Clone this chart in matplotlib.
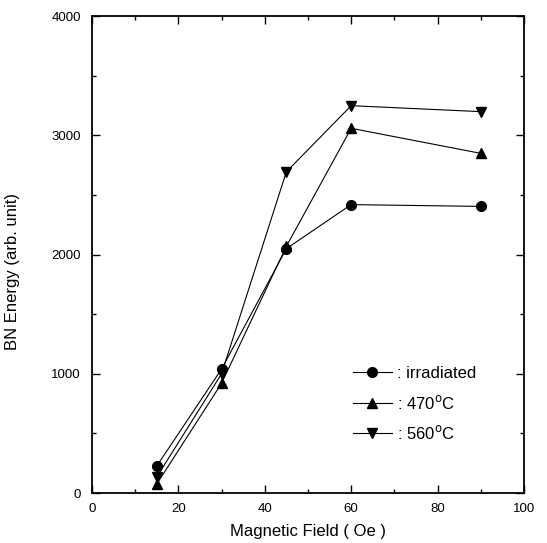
import numpy as np
import matplotlib
matplotlib.use("Agg")
from matplotlib import pyplot as plt
from matplotlib.ticker import MultipleLocator

plt.rcParams['font.family'] = ['Liberation Sans', 'DejaVu Sans']

# Magnetic field values (Oe)
field = [15, 30, 45, 60, 90]

# BN energy (arb. unit) for each sample
irradiated = [226, 1040, 2050, 2420, 2405]
t470 = [75, 920, 2070, 3060, 2850]
t560 = [134, 1000, 2695, 3250, 3200]

labels = [": irradiated", ": 470$^{\\rm o}$C", ": 560$^{\\rm o}$C"]


def main():
    fig = plt.figure(figsize=(5.47, 5.43), dpi=100)
    ax = fig.add_axes([0.168, 0.092, 0.790, 0.878])

    style = dict(color='black', linewidth=0.8, markersize=7)
    ax.plot(field, irradiated, marker='o', label=labels[0], **style)
    ax.plot(field, t470, marker='^', label=labels[1], **style)
    ax.plot(field, t560, marker='v', label=labels[2], **style)

    ax.set_xlim(0, 100)
    ax.set_ylim(0, 4000)
    ax.xaxis.set_major_locator(MultipleLocator(20))
    ax.xaxis.set_minor_locator(MultipleLocator(10))
    ax.yaxis.set_major_locator(MultipleLocator(1000))
    ax.yaxis.set_minor_locator(MultipleLocator(500))
    ax.tick_params(which='both', direction='in', top=True, right=True,
                   labelsize=9.5, width=1.0)
    ax.tick_params(which='major', length=6)
    ax.tick_params(which='minor', length=3)
    ax.tick_params(axis='x', which='major', pad=7)
    ax.tick_params(axis='y', which='major', pad=8)
    for s in ax.spines.values():
        s.set_linewidth(1.3)

    ax.set_xlabel("Magnetic Field ( Oe )", fontsize=12, labelpad=7)
    ax.set_ylabel("BN Energy (arb. unit)", fontsize=12)
    ax.yaxis.set_label_coords(-0.167, 0.465)

    ax.legend(loc='lower right', bbox_to_anchor=(0.925, 0.075), frameon=False,
              fontsize=12, handlelength=2.3, handletextpad=0.35,
              labelspacing=0.75)

    fig.savefig("out.png", dpi=100)


if __name__ == "__main__":
    main()
